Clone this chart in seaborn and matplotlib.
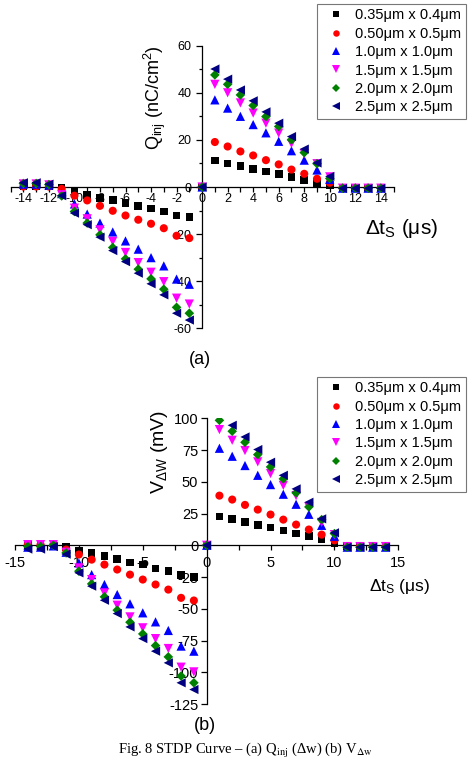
import numpy as np
import pandas as pd
import seaborn as sns
import matplotlib.pyplot as plt
from matplotlib.ticker import MultipleLocator

sns.set_theme(style="white", rc={"text.color": "black", "xtick.color": "black",
                                 "ytick.color": "black", "axes.edgecolor": "black"})
plt.rcParams['font.family'] = ['Liberation Sans', 'DejaVu Sans']
plt.rcParams['mathtext.fontset'] = 'custom'
plt.rcParams['mathtext.rm'] = 'Liberation Sans'
plt.rcParams['mathtext.it'] = 'Liberation Sans:italic'
plt.rcParams['axes.unicode_minus'] = False

# spike timing difference (us)
dt = list(range(-14, 15))
series = ["0.35μm x 0.4μm", "0.50μm x 0.5μm", "1.0μm x 1.0μm",
          "1.5μm x 1.5μm", "2.0μm x 2.0μm", "2.5μm x 2.5μm"]

# (a) injected charge, nC/cm^2
q_035 = [0.3, 0.3, 0.2, -0.5, -2.0, -3.4, -4.6, -5.6, -6.8, -8.0, -9.2, -10.4, -12.1, -12.8,
         0, 11.2, 10.0, 8.9, 7.6, 6.5, 5.5, 4.2, 3.0, 1.8, 0.8, -0.4, -0.4, -0.4, -0.4]
q_050 = [0.2, 0.2, 0.2, -0.8, -3.7, -5.7, -8.0, -10.1, -12.1, -13.9, -15.6, -17.5, -20.7, -21.7,
         0, 19.1, 17.2, 15.1, 13.4, 11.4, 9.6, 7.4, 5.6, 3.5, 1.8, -0.4, -0.4, -0.4, -0.4]
q_100 = [1.2, 1.2, 0.8, -2.8, -7.2, -11.5, -15.3, -19.1, -22.9, -26.4, -30.0, -33.5, -39.1, -41.3,
         0, 37.0, 33.5, 30.0, 26.5, 23.0, 19.4, 15.4, 11.4, 7.2, 3.2, -0.5, -0.5, -0.5, -0.5]
q_150 = [1.3, 1.3, 0.9, -3.3, -9.0, -13.5, -18.2, -23.1, -27.8, -32.1, -36.2, -40.2, -47.2, -49.7,
         0, 43.6, 40.0, 35.7, 31.4, 27.1, 22.9, 18.5, 14.2, 9.9, 4.3, -0.5, -0.5, -0.5, -0.5]
q_200 = [1.5, 1.5, 1.0, -3.8, -10.4, -15.3, -20.3, -25.7, -30.5, -34.9, -39.0, -43.4, -51.1, -53.6,
         0, 47.6, 43.6, 39.1, 34.6, 29.9, 25.7, 20.0, 14.6, 9.9, 3.6, -0.5, -0.5, -0.5, -0.5]
q_250 = [1.8, 1.8, 1.2, -3.7, -11.1, -16.0, -21.3, -27.0, -31.7, -36.6, -41.1, -45.8, -53.6, -56.5,
         0, 50.1, 45.8, 41.2, 36.6, 31.9, 27.1, 21.4, 16.1, 10.2, 4.5, -0.6, -0.6, -0.6, -0.6]

# (b) weight voltage change, mV
v_035 = [0.3, 0.3, 0.3, -1.5, -4.2, -6.3, -8.4, -11.0, -13.5, -15.2, -18.3, -20.4, -23.6, -25.1,
         0, 22.8, 20.8, 18.4, 16.0, 13.9, 11.6, 9.4, 7.1, 4.5, 1.9, -1.0, -1.0, -1.0, -1.0]
v_050 = [0.5, 0.5, 0.5, -3.4, -7.3, -11.3, -15.2, -19.1, -23.1, -27.0, -30.9, -34.9, -41.4, -43.5,
         0, 39.1, 36.0, 31.8, 28.1, 24.2, 20.2, 16.3, 12.4, 8.4, 3.9, -1.0, -1.0, -1.0, -1.0]
v_100 = [-1.5, -1.5, -0.5, -5.5, -13.9, -23.1, -30.9, -38.8, -46.1, -53.2, -60.3, -67.1, -79.4, -83.4,
         0, 76.4, 70.1, 62.8, 55.1, 47.8, 40.2, 32.3, 24.4, 15.7, 7.1, -1.5, -1.5, -1.5, -1.5]
v_150 = [0.5, 0.5, 0.5, -5.5, -17.8, -27.0, -37.5, -47.2, -56.4, -65.0, -73.5, -81.3, -96.0, -99.7,
         0, 91.1, 82.7, 74.6, 65.7, 56.5, 47.2, 39.1, 30.2, 18.0, 8.4, -1.0, -1.0, -1.0, -1.0]
v_200 = [-1.0, -1.0, 0.0, -6.0, -20.4, -30.4, -40.6, -51.1, -60.6, -69.8, -79.0, -87.9, -103.0, -108.3,
         0, 98.4, 89.8, 81.1, 71.4, 61.7, 52.3, 41.3, 30.2, 20.2, 9.2, -1.5, -1.5, -1.5, -1.5]
v_250 = [-3.0, -3.0, -1.0, -7.0, -21.7, -32.2, -43.3, -53.8, -64.3, -73.5, -83.4, -92.6, -108.3, -113.6,
         0, 105.0, 94.5, 85.3, 75.4, 65.4, 55.1, 44.4, 33.9, 20.8, 9.8, -1.5, -1.5, -1.5, -1.5]

colors = dict(zip(series, ["black", "#ff0000", "#0000ff", "#ff00ff", "#008000", "#000080"]))
marks = dict(zip(series, ["s", "o", "^", "v", "D", "<"]))
sizes = dict(zip(series, [30, 34, 44, 44, 24, 44]))


def long_frame(cols):
    df = pd.DataFrame(dict(zip(series, cols)))
    df["dt"] = dt
    return df.melt(id_vars="dt", var_name="series", value_name="y")


def style_axes(ax, ylim, xmaj, xmin, ymaj, ymin, fs, xpad, ypad):
    ax.set_xlim(-15, 15)
    ax.set_ylim(*ylim)
    ax.spines['top'].set_visible(False)
    ax.spines['right'].set_visible(False)
    ax.spines['left'].set_position(('data', 0))
    ax.spines['bottom'].set_position(('data', 0))
    for s in ['left', 'bottom']:
        ax.spines[s].set_linewidth(0.9)
        ax.spines[s].set_zorder(1)
    ax.xaxis.set_major_locator(MultipleLocator(xmaj))
    ax.xaxis.set_minor_locator(MultipleLocator(xmin))
    ax.yaxis.set_major_locator(MultipleLocator(ymaj))
    if ymin:
        ax.yaxis.set_minor_locator(MultipleLocator(ymin))
    ax.tick_params(axis='x', which='both', direction='out', bottom=True, length=3.5,
                   width=0.9, labelsize=fs, pad=xpad)
    ax.tick_params(axis='y', which='major', direction='out', left=True, length=4,
                   width=0.9, labelsize=fs, pad=ypad)
    ax.tick_params(axis='y', which='minor', direction='out', left=True, length=2.5, width=0.9)
    ax.set_xlabel("")
    ax.set_ylabel("")
    ax.patch.set_alpha(0)


fig = plt.figure(figsize=(4.68, 7.6), dpi=100)
W, H = 468.0, 760.0

ax_a = fig.add_axes([10.6 / W, 1 - 328.3 / H, 383 / W, 282.6 / H])
ax_b = fig.add_axes([15 / W, 1 - 704 / H, 383.3 / W, 285.7 / H])

panels = [(ax_a, long_frame([q_035, q_050, q_100, q_150, q_200, q_250])),
          (ax_b, long_frame([v_035, v_050, v_100, v_150, v_200, v_250]))]
for ax, df in panels:
    sns.scatterplot(data=df, x="dt", y="y", hue="series", style="series", size="series",
                    palette=colors, markers=marks, sizes=sizes, linewidth=0,
                    edgecolor="none", ax=ax, zorder=3)

style_axes(ax_a, (-60, 60), 2, 1, 20, 10, 9, 1.0, 3.5)
style_axes(ax_b, (-125, 100), 5, 2.5, 25, None, 10.5, 4.5, 2.0)

leg_kw = dict(title=None, frameon=True, fancybox=False, fontsize=10.5, borderpad=0.3,
              labelspacing=0.3, handlelength=2.0, handletextpad=0.35, borderaxespad=0,
              bbox_transform=fig.transFigure, markerscale=0.8)
sns.move_legend(ax_a, "upper right", bbox_to_anchor=(466 / W, 1 - 4 / H), **leg_kw)
sns.move_legend(ax_b, "upper right", bbox_to_anchor=(466 / W, 1 - 377 / H), **leg_kw)
for ax in (ax_a, ax_b):
    fr = ax.get_legend().get_frame()
    fr.set_edgecolor("#555555")
    fr.set_linewidth(0.8)

# axis titles
fig.text(155 / W, 1 - 98 / H, r"Q$_{\mathrm{inj}}$ (nC/cm$^{2}$)", rotation=90,
         ha="center", va="center", fontsize=13)
fig.text(402 / W, 1 - 228 / H, r"Δt$_{\mathrm{S}}$ (μs)", ha="center", va="center", fontsize=15)
fig.text(160 / W, 1 - 452 / H, r"V$_{\Delta\mathrm{W}}$ (mV)", rotation=90,
         ha="center", va="center", fontsize=14)
fig.text(400 / W, 1 - 587 / H, r"Δt$_{\mathrm{S}}$ (μs)", ha="center", va="center", fontsize=12.5)

fig.text(200 / W, 1 - 360 / H, "(a)", ha="center", va="center", fontsize=13)
fig.text(205 / W, 1 - 725 / H, "(b)", ha="center", va="center", fontsize=13)
fig.text(245 / W, 1 - 750 / H,
         r"Fig. 8 STDP Curve – (a) Q$_{\mathrm{inj}}$ (Δw) (b) V$_{\Delta\mathrm{w}}$",
         ha="center", va="center", fontsize=10.5, family=["Liberation Serif", "DejaVu Serif"],
         math_fontfamily="stix")

fig.savefig("out.png", dpi=100)
